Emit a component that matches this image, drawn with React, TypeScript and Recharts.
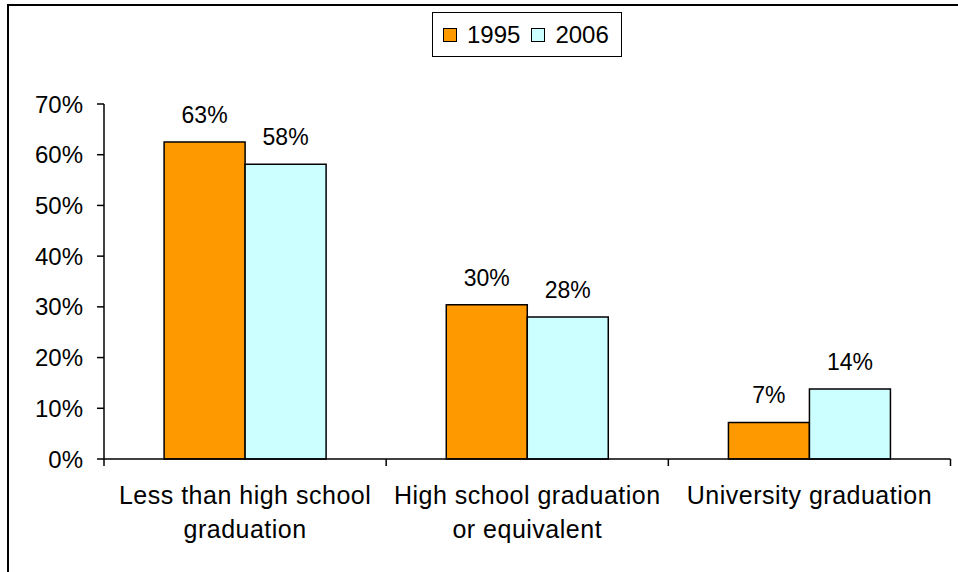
import React from 'react';
import {
  BarChart,
  Bar,
  XAxis,
  YAxis,
  Legend,
  LabelList,
} from 'recharts';

// education level (line breaks as in the original axis)
const categories = [
  'Less than high school\ngraduation',
  'High school graduation\nor equivalent',
  'University graduation',
];
const series1995 = [62.5, 30.4, 7.2];
const series2006 = [58.1, 28.0, 13.8];
const yTicks = [0, 10, 20, 30, 40, 50, 60, 70];

const seriesNames = ['1995', '2006'];
const seriesColors = ['#FF9900', '#CCFFFF'];

const FONT = '"Liberation Sans", Arial, sans-serif';

const chartData = categories.map((name, i) => ({
  name,
  v1995: series1995[i],
  v2006: series2006[i],
}));

const CategoryTick = (props: any) => {
  const { x, y, payload, index } = props;
  const half = payload && payload.offset ? payload.offset : 846 / 6;
  const lines = String(payload.value).split('\n');
  return (
    <g>
      <line x1={x - half} x2={x - half} y1={y - 7} y2={y} stroke="#000" strokeWidth={1.5} />
      {index === categories.length - 1 && (
        <line x1={x + half} x2={x + half} y1={y - 7} y2={y} stroke="#000" strokeWidth={1.5} />
      )}
      <text
        x={x}
        y={y + 38}
        textAnchor="middle"
        fill="#000"
        fontSize={25}
        fontFamily={FONT}
        letterSpacing={0.5}
      >
        {lines.map((line, i) => (
          <tspan key={i} x={x} dy={i === 0 ? 0 : 34}>
            {line}
          </tspan>
        ))}
      </text>
    </g>
  );
};

const LegendBox = () => (
  <div
    style={{
      display: 'inline-flex',
      alignItems: 'center',
      border: '1.5px solid #000',
      height: 45,
      padding: '0 12px 0 10px',
      fontFamily: FONT,
      fontSize: 24,
      color: '#000',
      background: '#fff',
      boxSizing: 'border-box',
    }}
  >
    {seriesNames.map((s, i) => (
      <span key={s} style={{ display: 'inline-flex', alignItems: 'center', marginRight: i === 0 ? 11 : 0 }}>
        <span
          style={{
            width: 12,
            height: 12,
            background: seriesColors[i],
            border: '1.5px solid #000',
            marginRight: 10,
            display: 'inline-block',
          }}
        />
        {s}
      </span>
    ))}
  </div>
);

const pct = (v: any) => `${Math.round(v)}%`;

export default function App() {
  return (
    <div style={{ position: 'absolute', left: 0, top: 0, width: 958, height: 572, background: '#fff' }}>
      {/* partial chart frame, cropped on right and bottom */}
      <div
        style={{
          position: 'absolute',
          left: 7,
          top: 4,
          width: 960,
          height: 580,
          borderLeft: '2px solid #000',
          borderTop: '2px solid #000',
        }}
      />
      <BarChart
        width={958}
        height={572}
        data={chartData}
        margin={{ top: 58, right: 7.5, left: 0, bottom: 0 }}
        barCategoryGap="21.3%"
        barGap={0}
      >
        <YAxis
          width={104}
          domain={[0, 70]}
          ticks={yTicks}
          tickFormatter={(v) => `${v}%`}
          tick={{ fill: '#000', fontSize: 24, fontFamily: FONT }}
          tickSize={7}
          tickMargin={14}
          axisLine={{ stroke: '#000', strokeWidth: 1.5 }}
          tickLine={{ stroke: '#000', strokeWidth: 1.5 }}
          interval={0}
        />
        <XAxis
          dataKey="name"
          height={113}
          tick={<CategoryTick />}
          tickLine={false}
          tickSize={7}
          tickMargin={0}
          axisLine={{ stroke: '#000', strokeWidth: 1.5 }}
          interval={0}
        />
        <Legend
          verticalAlign="top"
          align="center"
          content={<LegendBox />}
          wrapperStyle={{ top: 12, left: 432, width: 'auto', height: 46, lineHeight: 0 }}
        />
        <Bar dataKey="v1995" name={seriesNames[0]} fill={seriesColors[0]} stroke="#000" strokeWidth={1.5} isAnimationActive={false}>
          <LabelList
            dataKey="v1995"
            position="top"
            offset={19}
            formatter={pct}
            style={{ fill: '#000', fontSize: 23, fontFamily: FONT }}
          />
        </Bar>
        <Bar dataKey="v2006" name={seriesNames[1]} fill={seriesColors[1]} stroke="#000" strokeWidth={1.5} isAnimationActive={false}>
          <LabelList
            dataKey="v2006"
            position="top"
            offset={19}
            formatter={pct}
            style={{ fill: '#000', fontSize: 23, fontFamily: FONT }}
          />
        </Bar>
      </BarChart>
    </div>
  );
}
